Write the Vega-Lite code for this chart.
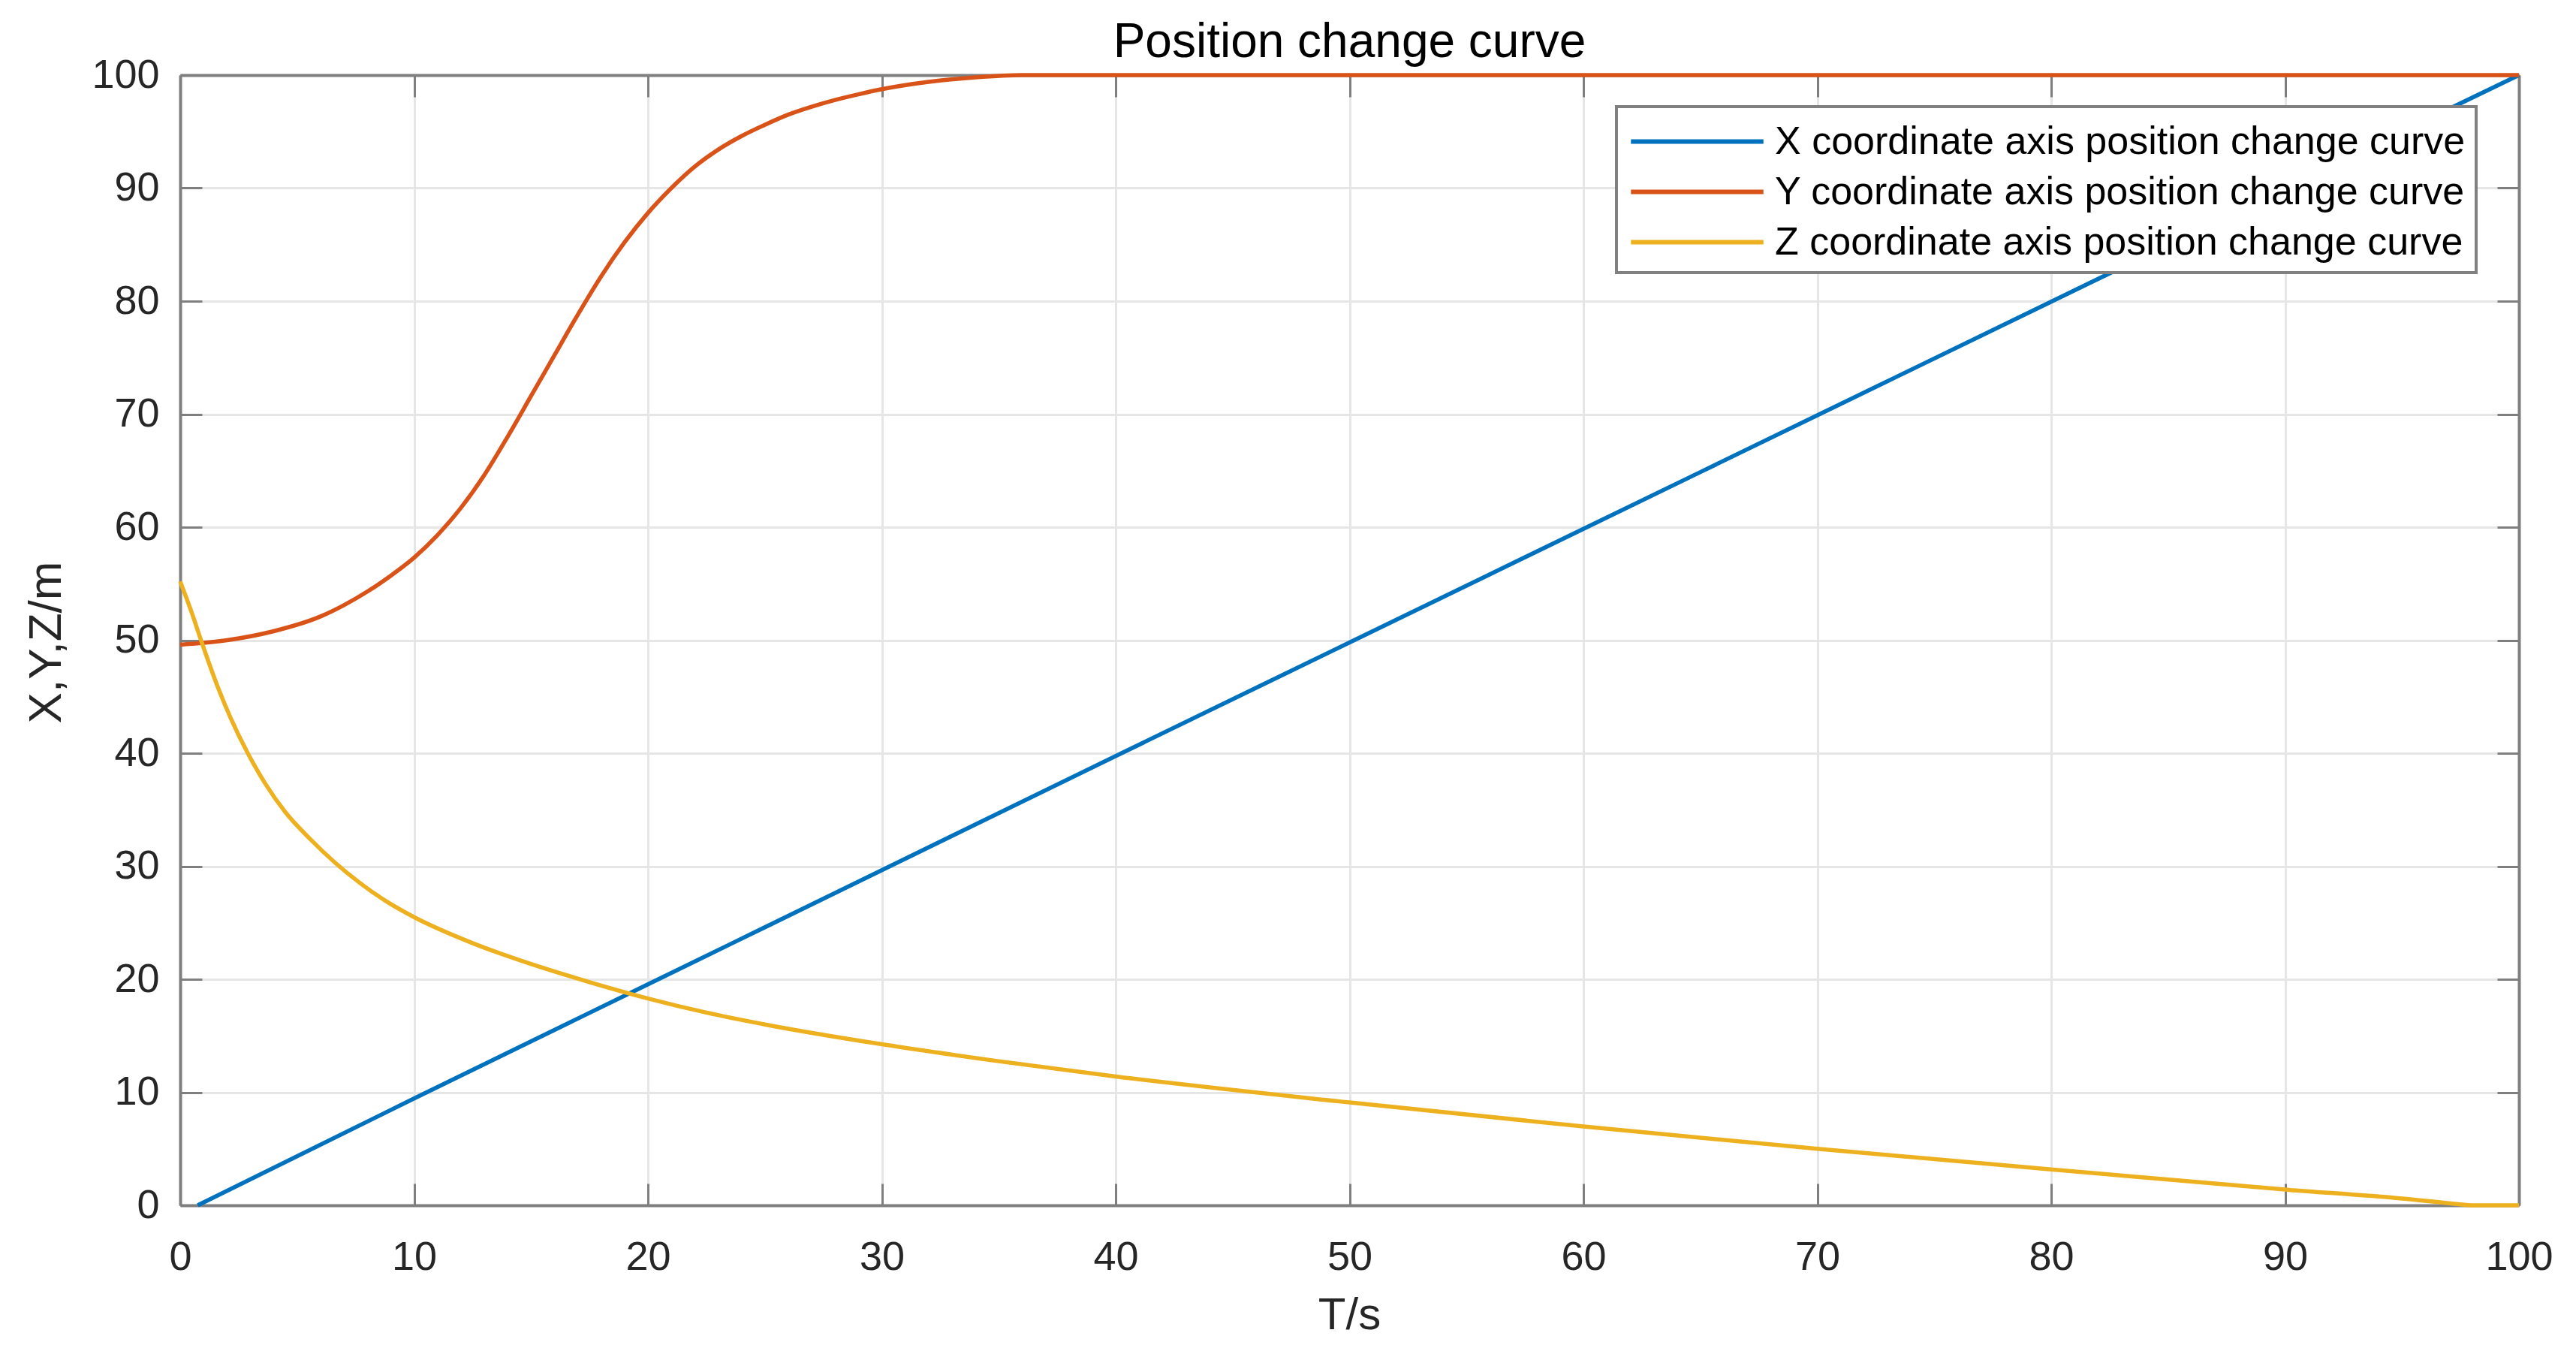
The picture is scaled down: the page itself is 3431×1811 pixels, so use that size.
{
  "$schema": "https://vega.github.io/schema/vega-lite/v6.json",
  "width": 3115,
  "height": 1505,
  "autosize": {"type": "none"},
  "padding": {"left": 240, "top": 100, "right": 76, "bottom": 206},
  "background": "white",
  "config": {
    "font": "Liberation Sans",
    "view": {"stroke": null},
    "legend": {"strokeWidth": 4}
  },
  "title": {
    "text": "Position change curve",
    "fontSize": 64,
    "fontWeight": "normal",
    "color": "#000000",
    "anchor": "middle",
    "frame": "group",
    "offset": -16
  },
  "data": {
    "values": [
      {"series": "X coordinate axis position change curve", "t": 0.75, "value": 0},
      {"series": "X coordinate axis position change curve", "t": 10, "value": 9.45},
      {"series": "X coordinate axis position change curve", "t": 20, "value": 19.55},
      {"series": "X coordinate axis position change curve", "t": 30, "value": 29.65},
      {"series": "X coordinate axis position change curve", "t": 40, "value": 39.75},
      {"series": "X coordinate axis position change curve", "t": 50, "value": 49.8},
      {"series": "X coordinate axis position change curve", "t": 60, "value": 59.85},
      {"series": "X coordinate axis position change curve", "t": 70, "value": 69.9},
      {"series": "X coordinate axis position change curve", "t": 80, "value": 79.95},
      {"series": "X coordinate axis position change curve", "t": 90, "value": 90},
      {"series": "X coordinate axis position change curve", "t": 100, "value": 100},
      {"series": "Y coordinate axis position change curve", "t": 0, "value": 49.6},
      {"series": "Y coordinate axis position change curve", "t": 2, "value": 50.0},
      {"series": "Y coordinate axis position change curve", "t": 4, "value": 50.8},
      {"series": "Y coordinate axis position change curve", "t": 6, "value": 52.1},
      {"series": "Y coordinate axis position change curve", "t": 7, "value": 53.1},
      {"series": "Y coordinate axis position change curve", "t": 8, "value": 54.3},
      {"series": "Y coordinate axis position change curve", "t": 9, "value": 55.7},
      {"series": "Y coordinate axis position change curve", "t": 10, "value": 57.3},
      {"series": "Y coordinate axis position change curve", "t": 11, "value": 59.3},
      {"series": "Y coordinate axis position change curve", "t": 12, "value": 61.7},
      {"series": "Y coordinate axis position change curve", "t": 13, "value": 64.6},
      {"series": "Y coordinate axis position change curve", "t": 14, "value": 68.0},
      {"series": "Y coordinate axis position change curve", "t": 15, "value": 71.6},
      {"series": "Y coordinate axis position change curve", "t": 16, "value": 75.2},
      {"series": "Y coordinate axis position change curve", "t": 17, "value": 78.8},
      {"series": "Y coordinate axis position change curve", "t": 18, "value": 82.2},
      {"series": "Y coordinate axis position change curve", "t": 19, "value": 85.2},
      {"series": "Y coordinate axis position change curve", "t": 20, "value": 87.8},
      {"series": "Y coordinate axis position change curve", "t": 21, "value": 90.0},
      {"series": "Y coordinate axis position change curve", "t": 22, "value": 91.9},
      {"series": "Y coordinate axis position change curve", "t": 23, "value": 93.4},
      {"series": "Y coordinate axis position change curve", "t": 24, "value": 94.6},
      {"series": "Y coordinate axis position change curve", "t": 25, "value": 95.6},
      {"series": "Y coordinate axis position change curve", "t": 26, "value": 96.5},
      {"series": "Y coordinate axis position change curve", "t": 27, "value": 97.2},
      {"series": "Y coordinate axis position change curve", "t": 28, "value": 97.8},
      {"series": "Y coordinate axis position change curve", "t": 29, "value": 98.3},
      {"series": "Y coordinate axis position change curve", "t": 30, "value": 98.75},
      {"series": "Y coordinate axis position change curve", "t": 32, "value": 99.4},
      {"series": "Y coordinate axis position change curve", "t": 34, "value": 99.8},
      {"series": "Y coordinate axis position change curve", "t": 36, "value": 100},
      {"series": "Y coordinate axis position change curve", "t": 50, "value": 100},
      {"series": "Y coordinate axis position change curve", "t": 100, "value": 100},
      {"series": "Z coordinate axis position change curve", "t": 0, "value": 55.2},
      {"series": "Z coordinate axis position change curve", "t": 0.5, "value": 52.4},
      {"series": "Z coordinate axis position change curve", "t": 0.94, "value": 49.7},
      {"series": "Z coordinate axis position change curve", "t": 1.6, "value": 45.9},
      {"series": "Z coordinate axis position change curve", "t": 2.14, "value": 43.2},
      {"series": "Z coordinate axis position change curve", "t": 2.89, "value": 40.0},
      {"series": "Z coordinate axis position change curve", "t": 3.64, "value": 37.3},
      {"series": "Z coordinate axis position change curve", "t": 4.49, "value": 34.8},
      {"series": "Z coordinate axis position change curve", "t": 5.56, "value": 32.4},
      {"series": "Z coordinate axis position change curve", "t": 6.63, "value": 30.3},
      {"series": "Z coordinate axis position change curve", "t": 7.7, "value": 28.5},
      {"series": "Z coordinate axis position change curve", "t": 8.77, "value": 26.95},
      {"series": "Z coordinate axis position change curve", "t": 10, "value": 25.5},
      {"series": "Z coordinate axis position change curve", "t": 12.5, "value": 23.2},
      {"series": "Z coordinate axis position change curve", "t": 15, "value": 21.35},
      {"series": "Z coordinate axis position change curve", "t": 17.5, "value": 19.75},
      {"series": "Z coordinate axis position change curve", "t": 20, "value": 18.3},
      {"series": "Z coordinate axis position change curve", "t": 22.5, "value": 17.05},
      {"series": "Z coordinate axis position change curve", "t": 25, "value": 16.0},
      {"series": "Z coordinate axis position change curve", "t": 30, "value": 14.25},
      {"series": "Z coordinate axis position change curve", "t": 35, "value": 12.75},
      {"series": "Z coordinate axis position change curve", "t": 40, "value": 11.4},
      {"series": "Z coordinate axis position change curve", "t": 50, "value": 9.1},
      {"series": "Z coordinate axis position change curve", "t": 60, "value": 6.97},
      {"series": "Z coordinate axis position change curve", "t": 70, "value": 5.0},
      {"series": "Z coordinate axis position change curve", "t": 80, "value": 3.18},
      {"series": "Z coordinate axis position change curve", "t": 90, "value": 1.39},
      {"series": "Z coordinate axis position change curve", "t": 95, "value": 0.6},
      {"series": "Z coordinate axis position change curve", "t": 97.4, "value": 0.1},
      {"series": "Z coordinate axis position change curve", "t": 98, "value": 0},
      {"series": "Z coordinate axis position change curve", "t": 100, "value": 0}
    ]
  },
  "layer": [
    {
      "mark": {"type": "line", "strokeWidth": 5.5, "interpolate": "monotone"},
      "encoding": {
        "x": {
          "field": "t",
          "type": "quantitative",
          "scale": {"domain": [0, 100], "nice": false},
          "axis": {
            "orient": "bottom",
            "values": [0, 10, 20, 30, 40, 50, 60, 70, 80, 90, 100],
            "grid": true,
            "gridColor": "#e6e6e6",
            "gridWidth": 3,
            "domainColor": "#7f7f7f",
            "domainWidth": 4,
            "tickColor": "#7f7f7f",
            "tickWidth": 3,
            "tickSize": -29,
            "labelFlush": false,
            "labelFontSize": 54,
            "labelColor": "#262626",
            "labelPadding": 71,
            "title": "T/s",
            "titleFontSize": 60,
            "titleFontWeight": "normal",
            "titleColor": "#262626",
            "titleX": 1557,
            "titleY": 164,
            "titleBaseline": "alphabetic",
            "titleAlign": "center"
          }
        },
        "y": {
          "field": "value",
          "type": "quantitative",
          "scale": {"domain": [0, 100], "nice": false},
          "axis": {
            "orient": "left",
            "values": [0, 10, 20, 30, 40, 50, 60, 70, 80, 90, 100],
            "grid": true,
            "gridColor": "#e6e6e6",
            "gridWidth": 3,
            "domainColor": "#7f7f7f",
            "domainWidth": 4,
            "tickColor": "#7f7f7f",
            "tickWidth": 3,
            "tickSize": -29,
            "labelFlush": false,
            "labelFontSize": 54,
            "labelColor": "#262626",
            "labelPadding": 57,
            "title": "X,Y,Z/m",
            "titleFontSize": 62,
            "titleFontWeight": "normal",
            "titleColor": "#262626",
            "titleAngle": -90,
            "titleX": -179,
            "titleY": 755,
            "titleBaseline": "middle",
            "titleAlign": "center"
          }
        },
        "color": {
          "field": "series",
          "type": "nominal",
          "scale": {
            "domain": [
              "X coordinate axis position change curve",
              "Y coordinate axis position change curve",
              "Z coordinate axis position change curve"
            ],
            "range": ["#0072BD", "#D95319", "#EDB120"]
          },
          "legend": {
            "orient": "none",
            "legendX": 1913,
            "legendY": 42,
            "title": null,
            "labelFontSize": 52,
            "labelColor": "#000000",
            "labelLimit": 2000,
            "symbolType": "M-3,0H3",
            "symbolSize": 3460,
            "symbolStrokeWidth": 6,
            "symbolOffset": 61,
            "labelOffset": 71,
            "padding": 14,
            "rowPadding": 8,
            "strokeColor": "#808080",
            "fillColor": "white"
          }
        }
      }
    },
    {
      "mark": {"type": "line", "opacity": 0},
      "encoding": {
        "x": {
          "field": "t",
          "type": "quantitative",
          "axis": {
            "orient": "top",
            "values": [0, 10, 20, 30, 40, 50, 60, 70, 80, 90, 100],
            "labels": false,
            "grid": false,
            "title": null,
            "domainColor": "#7f7f7f",
            "domainWidth": 4,
            "tickColor": "#7f7f7f",
            "tickWidth": 3,
            "tickSize": -29
          }
        },
        "y": {
          "field": "value",
          "type": "quantitative",
          "axis": {
            "orient": "right",
            "values": [0, 10, 20, 30, 40, 50, 60, 70, 80, 90, 100],
            "labels": false,
            "grid": false,
            "title": null,
            "domainColor": "#7f7f7f",
            "domainWidth": 4,
            "tickColor": "#7f7f7f",
            "tickWidth": 3,
            "tickSize": -29
          }
        }
      }
    }
  ],
  "resolve": {"axis": {"x": "independent", "y": "independent"}}
}
